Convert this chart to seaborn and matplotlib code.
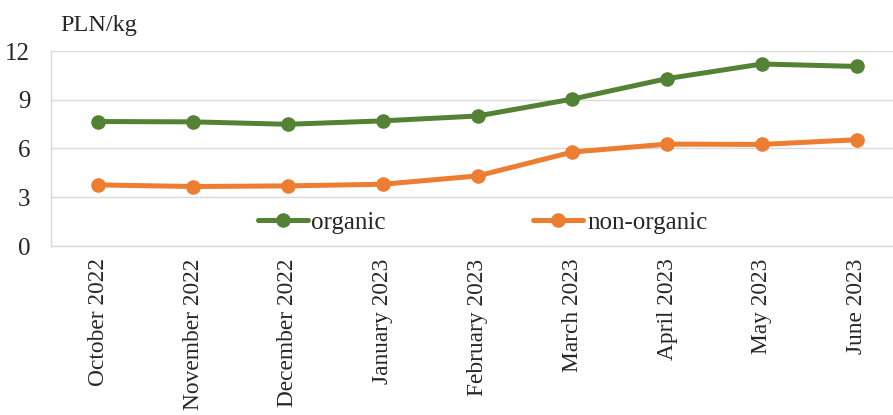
import pandas as pd
import matplotlib.pyplot as plt
import seaborn as sns

# data
months = ['October 2022', 'November 2022', 'December 2022', 'January 2023',
          'February 2023', 'March 2023', 'April 2023', 'May 2023', 'June 2023']
organic = [7.66, 7.64, 7.49, 7.70, 8.00, 9.04, 10.30, 11.20, 11.05]
non_organic = [3.76, 3.66, 3.70, 3.80, 4.31, 5.78, 6.27, 6.25, 6.54]

df = pd.DataFrame({'month': months * 2,
                   'value': organic + non_organic,
                   'type': ['organic'] * 9 + ['non-organic'] * 9})
df['pos'] = list(range(9)) * 2

sns.set_theme(style='white')
plt.rcParams['font.family'] = ['Liberation Serif', 'DejaVu Serif']

fig = plt.figure(figsize=(8.93, 4.15), dpi=100)
# right edge runs a bit past the canvas, like the cropped original
ax = fig.add_axes([51 / 893, 1 - 246 / 415, (904 - 51) / 893, (246 - 51) / 415])

sns.lineplot(data=df, x='pos', y='value', hue='type',
             palette={'organic': '#548235', 'non-organic': '#ED7D31'},
             marker='o', markersize=10.5, markeredgewidth=0, linewidth=3.6,
             ax=ax)

ax.set_xlim(-0.5, 8.5)
ax.set_ylim(0, 12)
ax.set_yticks([0, 3, 6, 9, 12])
ax.set_xticks(range(9))
ax.set_xticklabels(months, rotation=90, fontsize=16.8)
ax.tick_params(axis='y', labelsize=18, length=0, pad=15)
ax.tick_params(axis='x', length=0, pad=9)
ax.yaxis.grid(True, color='#d9d9d9', linewidth=1)
ax.set_xlabel('')
ax.set_ylabel('')
for s in ['top', 'right']:
    ax.spines[s].set_visible(False)
for s in ['left', 'bottom']:
    ax.spines[s].set_color('#d9d9d9')
    ax.spines[s].set_linewidth(1)

ax.legend(loc='center', bbox_to_anchor=(0.506, 0.118), ncol=2, frameon=False,
          fontsize=18, columnspacing=5.9, handlelength=2.0, handletextpad=0.15)

fig.text(60 / 893, 1 - 25 / 415, 'PLN/kg', fontsize=17.5, va='center', ha='left')

fig.savefig('out.png', dpi=100)
